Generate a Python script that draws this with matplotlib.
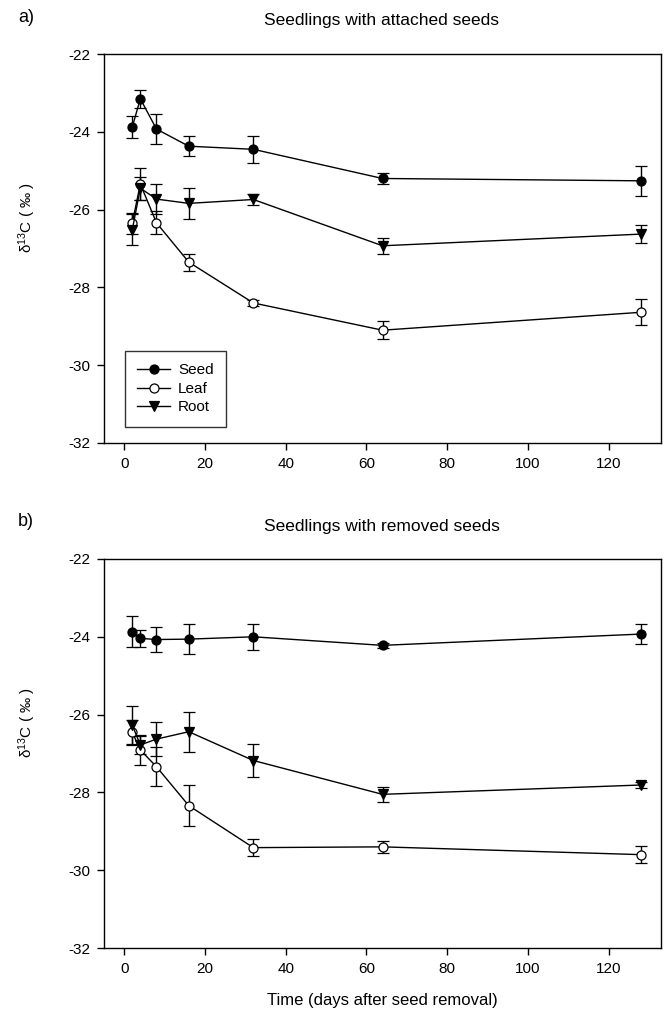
import matplotlib
matplotlib.use("Agg")
import matplotlib.pyplot as plt
import numpy as np

plt.rcParams['font.family'] = ['Liberation Sans', 'DejaVu Sans']
plt.rcParams['mathtext.fontset'] = 'custom'
plt.rcParams['mathtext.rm'] = 'Liberation Sans'
plt.rcParams['mathtext.it'] = 'Liberation Sans:italic'
plt.rcParams['axes.unicode_minus'] = False

days = [2, 4, 8, 16, 32, 64, 128]

# Panel a: seedlings with attached seeds
seed_a = [-23.88, -23.15, -23.93, -24.37, -24.45, -25.20, -25.26]
seed_a_err = [0.29, 0.23, 0.39, 0.26, 0.35, 0.15, 0.39]
leaf_a = [-26.35, -25.34, -26.34, -27.35, -28.40, -29.10, -28.64]
leaf_a_err = [0.27, 0.42, 0.30, 0.22, 0.08, 0.23, 0.33]
root_a = [-26.52, -25.45, -25.73, -25.84, -25.74, -26.93, -26.63]
root_a_err = [0.40, 0.30, 0.39, 0.40, 0.15, 0.20, 0.23]

# Panel b: seedlings with removed seeds
seed_b = [-23.87, -24.04, -24.07, -24.06, -24.00, -24.22, -23.93]
seed_b_err = [0.40, 0.22, 0.32, 0.39, 0.33, 0.06, 0.26]
leaf_b = [-26.45, -26.91, -27.34, -28.34, -29.42, -29.40, -29.60]
leaf_b_err = [0.30, 0.38, 0.50, 0.52, 0.22, 0.15, 0.22]
root_b = [-26.27, -26.78, -26.63, -26.44, -27.18, -28.05, -27.81]
root_b_err = [0.50, 0.22, 0.43, 0.51, 0.43, 0.20, 0.07]

series_labels = ['Seed', 'Leaf', 'Root']
x_ticks = [0, 20, 40, 60, 80, 100, 120]
y_ticks = [-32, -30, -28, -26, -24, -22]

W, H = 669, 1014
fig = plt.figure(figsize=(W / 100, H / 100), dpi=100)

left = 104 / W
width = (661 - 104) / W
ax_a = fig.add_axes([left, 1 - 443 / H, width, (443 - 54) / H])
ax_b = fig.add_axes([left, 1 - 948 / H, width, (948 - 559) / H])

styles = [
    dict(marker='o', mfc='black', mec='black'),
    dict(marker='o', mfc='white', mec='black'),
    dict(marker='v', mfc='black', mec='black'),
]

def draw(ax, data):
    handles = []
    for (vals, errs), st, lab in zip(data, styles, series_labels):
        h = ax.errorbar(days, vals, yerr=errs, color='black', lw=1.0,
                        elinewidth=1.0, capsize=4.5, capthick=1.0,
                        ms=6.5, mew=0.9, label=lab, **st)
        handles.append(h)
    ax.set_xlim(-5, 133)
    ax.set_ylim(-32, -22)
    ax.set_xticks(x_ticks)
    ax.set_yticks(y_ticks)
    ax.tick_params(direction='out', length=5, width=1, labelsize=11, pad=5)
    for s in ax.spines.values():
        s.set_linewidth(1.0)
    ax.set_ylabel('δ$^{13}$C ( ‰ )', fontsize=11)
    ax.yaxis.set_label_coords(-0.118, 0.58)
    return handles

h = draw(ax_a, [(seed_a, seed_a_err), (leaf_a, leaf_a_err), (root_a, root_a_err)])
draw(ax_b, [(seed_b, seed_b_err), (leaf_b, leaf_b_err), (root_b, root_b_err)])

leg = ax_a.legend(handles=[hh[0] for hh in h], labels=series_labels,
                  loc='lower left', bbox_to_anchor=(0.037, 0.042),
                  borderaxespad=0, frameon=True, fancybox=False,
                  edgecolor='black', fontsize=11, handlelength=2.2,
                  handletextpad=0.5, borderpad=0.8, labelspacing=0.3)
leg.get_frame().set_linewidth(1.0)

ax_b.set_xlabel('Time (days after seed removal)', fontsize=12, labelpad=12)

fig.text(18 / W, 1 - 17 / H, 'a)', fontsize=13, va='center', ha='left')
fig.text(382 / W, 1 - 21 / H, 'Seedlings with attached seeds', fontsize=12.5,
         va='center', ha='center')
fig.text(18 / W, 1 - 521 / H, 'b)', fontsize=13, va='center', ha='left')
fig.text(382 / W, 1 - 526 / H, 'Seedlings with removed seeds', fontsize=12.5,
         va='center', ha='center')

fig.savefig('out.png', dpi=100)
